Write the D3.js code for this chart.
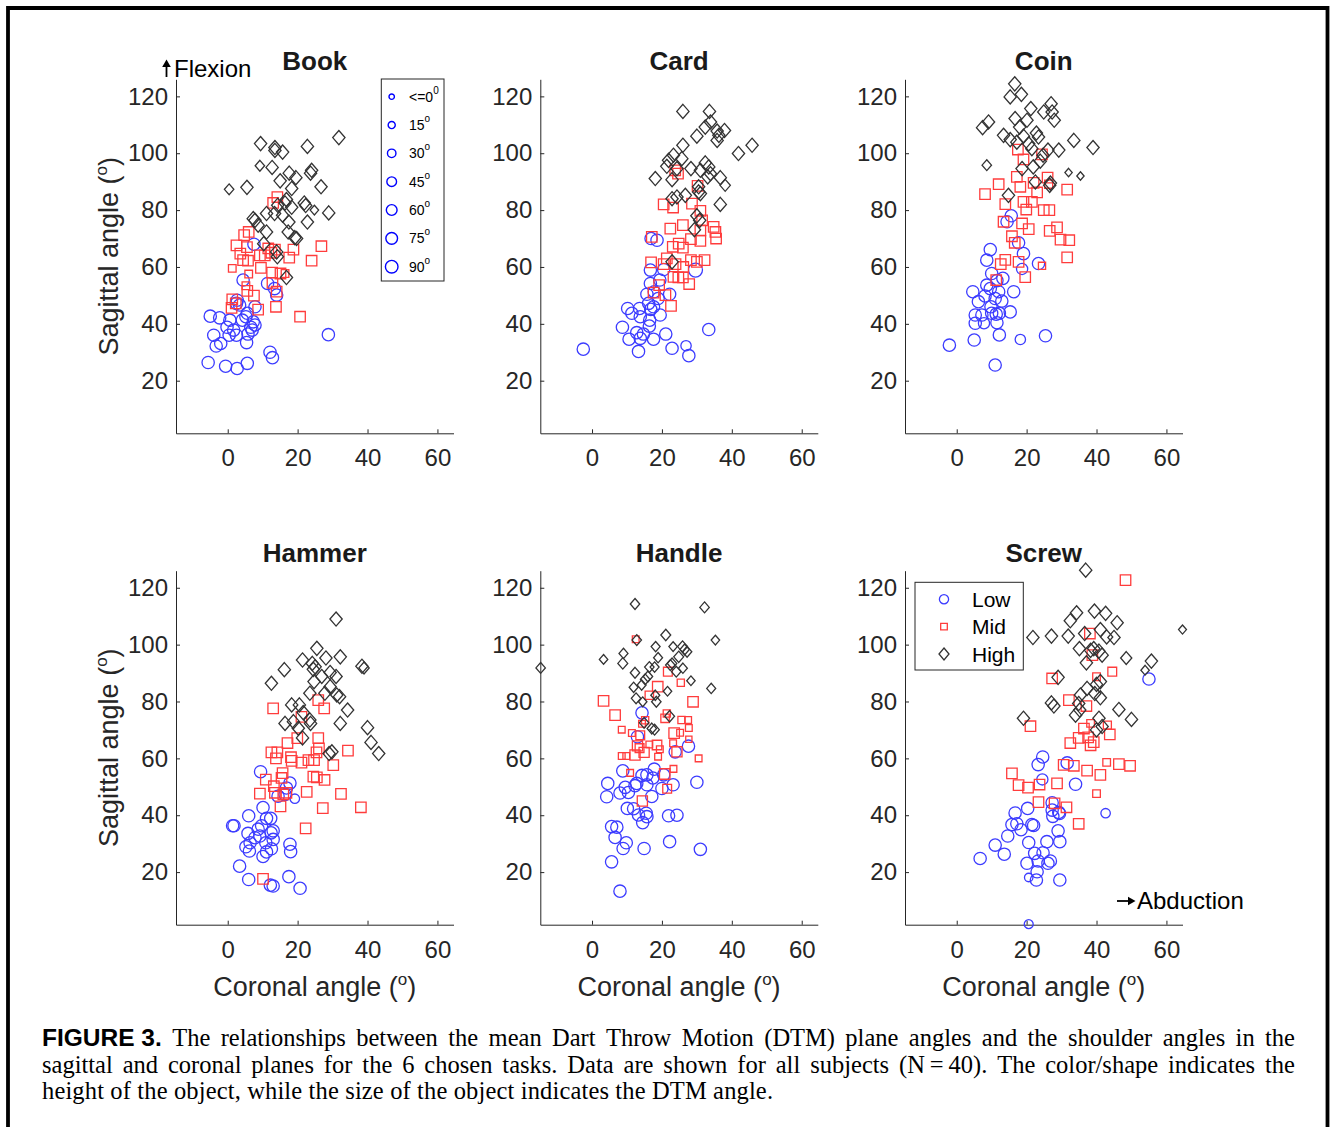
<!DOCTYPE html>
<html>
<head>
<meta charset="utf-8">
<script src="https://cdn.jsdelivr.net/npm/d3@7"></script>
<style>
  body { margin: 0; background: #fff; }
  text { font-family: "Liberation Sans", Arial, Helvetica, sans-serif; }
</style>
</head>
<body>
<svg width="1334" height="1127"></svg>
<script>
// each point: [coronal angle, sagittal angle, DTM angle]
var bookLow = [[7.5,68,65],[4.4,55.4,65],[11.4,54.2,65],[13.4,52.4,65],[14,50.1,65],[2.5,47.2,65],[3.4,46.6,65],[7.8,46,65],
  [5.6,43.7,65],[-5,42.7,65],[-2.3,42.1,65],[0.6,41.3,65],[4.2,41.3,65],[7.3,40.7,65],[7.8,39.6,65],[6.6,38.8,65],
  [-0.2,38.8,65],[1.7,37.8,65],[-4,36,65],[0.4,36,65],[2.5,36,65],[5.8,36.4,65],[5.4,33.4,65],[-2,33.1,65],[-3.3,32.2,65],
  [28.8,36.2,65],[12.1,30,65],[12.8,28.1,65],[-5.6,26.4,65],[-0.6,25.1,65],[2.7,24.3,65],[5.6,26.1,65],[7,37.8,65],
  [5.2,42.5,65],[2.7,48.3,65]];
var bookMid = [[14.2,84.6,65],[13,82.5,65],[6,72.3,65],[4.7,71.2,65],[2.5,67.6,65],[5.5,67,65],[3.6,64.7,65],[4.4,62.4,65],
  [5.8,62.2,65],[1.3,59.5,25],[9.2,64.1,65],[10.6,64.1,65],[11.6,66.5,65],[12.5,65,65],[13.5,66.1,65],[18.8,66.1,65],
  [17.6,63.3,65],[24,62.2,65],[26.8,67.3,65],[9.5,59.7,65],[6,57.5,25],[12.7,58,65],[15.1,57.7,65],[5.2,53.4,25],
  [5.6,51.6,65],[7.5,49.9,65],[12.8,54.4,65],[14,51.3,65],[1.3,48.6,65],[2.3,47.2,65],[1.1,45.6,65],[8.7,45,65],
  [13.8,46,65],[20.7,42.5,65],[16.4,57.7,25]];
var bookHigh = [[9.4,103.4,65],[13.5,102,65],[13.5,101,65],[15.7,100.4,65],[22.8,102.4,65],[31.8,105.5,65],[9.2,95.6,30],
  [12.7,95,65],[17.6,93,65],[19.5,91.4,65],[15,90.3,65],[24,94,65],[23.7,93,65],[26.7,88.2,65],[18.3,87.6,65],[0.4,87.3,30],
  [5.5,88,65],[16.8,83.7,65],[16.4,82.5,65],[21.9,82.5,65],[22.3,81.6,65],[18.3,81,65],[14.3,81.7,65],[11.1,78.8,65],
  [13.4,78.8,65],[24.8,80,20],[28.9,79,65],[15.7,78.2,65],[22.8,75.8,65],[17.5,75.8,65],[7.3,77,65],[7.8,76.4,65],
  [8.7,74.7,65],[11.1,72.3,65],[17.3,72.3,65],[19.2,70.3,65],[19.7,70,65],[10.3,68.2,65],[14.2,63.6,65],[14,65.3,65],
  [16.8,56.3,65]];

var cardLow = [[16.9,70,65],[18.6,69.4,65],[16.7,58.9,65],[19.4,55.4,65],[20.5,59.1,65],[29.6,58.9,90],[16.7,54.2,65],
  [15.7,50.4,65],[17.8,51.3,65],[22.2,50.4,65],[18.9,48.9,65],[16.2,47.2,65],[16.8,45.1,65],[17.6,46,65],[10.2,45.4,65],
  [11.4,43.7,65],[13.6,45.4,65],[13.8,42.5,65],[16.5,41.3,65],[19.5,43.1,65],[16.4,39.2,65],[8.7,38.8,65],[12.8,36.9,65],
  [14.7,36.4,65],[13.8,34.9,65],[10.6,34.6,65],[17.6,34.6,65],[21.1,36.4,65],[33.4,38,65],[-2.5,31.1,65],[13.3,30.3,65],
  [22.9,31.4,65],[26.9,32.3,40],[27.7,28.8,65]];
var cardMid = [[23.8,94,65],[24.6,92.8,65],[30.2,88.5,65],[20.5,82,65],[23.2,80.9,65],[28.6,82.3,65],[31,79.7,65],
  [31.5,76.4,65],[22.4,73.5,65],[26,74.7,65],[31,72.9,65],[34.8,74.1,65],[35.3,72.3,65],[35.5,70,65],[28.3,69.8,65],
  [31,69.2,65],[17.1,70.6,65],[23.1,67.1,65],[24.8,68.2,65],[26,66.8,65],[16.9,61.6,65],[20.5,61,65],[21.4,63,65],
  [23.9,61,65],[26.1,60,65],[28.3,62.4,65],[30,61.8,65],[32.2,62.4,65],[23.3,56.5,65],[24.7,56.3,65],[26,56.3,65],
  [27.8,54,65],[19.2,53.6,65],[17.6,51,65],[21,50.1,65],[22.6,46.3,65]];
var cardHigh = [[26,114.7,65],[33.6,114.7,65],[33.9,111,65],[32.4,109.2,65],[35.8,107.8,65],[37.9,108,65],[36.3,106.3,65],
  [35.8,104.5,65],[30,106,65],[26,102.8,65],[41.9,99.9,65],[45.8,102.8,65],[23.3,99.3,65],[21.9,97.5,65],[25.7,98.1,65],
  [21.4,95.4,65],[24.3,94.6,65],[28.3,94.6,65],[31,94,65],[32.4,96.6,65],[33.4,95.2,65],[33.9,92.8,65],[33.1,91.7,65],
  [18.1,91.1,65],[22.9,90.7,65],[36.7,91.4,65],[38.1,88.7,40],[30.5,88.2,65],[31,85.8,65],[26.7,85.2,65],[22.9,84,65],
  [24.3,84.6,65],[36.7,82,65],[30,78,65],[30.8,76.4,65],[29.3,73.1,65],[22.9,61.8,65],[30.5,86.4,65]];

var coinLow = [[15.6,78,65],[14.4,75.9,65],[17.7,68.5,65],[19.1,64.7,65],[9.6,66.1,65],[8.6,62.4,65],[18.7,59.3,50],
  [23.4,61.2,65],[10,57.7,65],[13.2,56,65],[11.5,55.2,65],[8.6,53.6,65],[9.6,52.4,65],[4.6,51.3,65],[12,51.3,65],
  [16.3,51.3,65],[8.1,49.8,65],[11,48.9,65],[6.2,47.8,65],[12.9,48,65],[9.8,46,65],[15.3,44.2,65],[5.3,43.1,65],
  [7.2,43.1,65],[10,43.7,65],[11.3,43.4,65],[12.2,43.7,65],[5.3,40.2,65],[7.8,40.2,50],[11.5,40.4,65],[12.2,36.1,65],
  [25.4,35.8,65],[-2.1,32.5,65],[5,34.3,65],[18.2,34.5,40],[11,25.5,65]];
var coinMid = [[17.5,101.3,65],[19.1,97.8,65],[24.4,99.6,65],[17.2,91.7,65],[18.2,88.2,65],[12,89.1,65],[8.1,85.6,65],
  [13.9,82.1,65],[19.1,82.9,65],[21.5,82.9,65],[23,86.2,65],[22,89.6,65],[26,91.4,65],[26.3,89.1,30],[31.6,87.2,65],
  [19.9,80.2,65],[24.9,80,65],[26.5,80,65],[13.4,75.9,65],[18.7,75.3,65],[20.6,73.3,65],[26.6,72.7,65],[28.7,73.9,65],
  [15.8,70.8,65],[16.6,68.5,65],[29.7,69.6,65],[32.2,69.4,65],[13.9,62.5,65],[12.6,61,65],[17.7,61.8,65],[24.4,60.4,20],
  [19.6,56.4,65],[11.3,55.4,65],[31.6,63.4,65]];
var coinHigh = [[16.6,124.4,65],[15.3,119.8,65],[18.5,120.7,65],[9.1,111,65],[7.4,109,65],[16.7,112.2,65],[18,109.2,65],
  [20.1,111.6,65],[21.2,115.7,65],[24.9,114.5,65],[27,117.4,65],[27.3,114.5,65],[27.9,111.6,65],[13.4,106.3,65],
  [15.3,104.8,65],[19.1,106,65],[22.8,107.1,65],[23.4,105.7,65],[21.5,101.6,65],[24.7,99.3,65],[26.1,101.1,65],
  [29.2,101.1,65],[33.5,104.5,65],[39,102,65],[8.6,95.8,30],[18.7,94.6,65],[21.9,95.2,65],[32,93.2,10],[35.4,92,10],
  [22.5,89.9,65],[26.6,88.7,65],[14.8,85.2,65],[23.9,97.2,65],[20.6,103.3,65],[17.2,103.9,65],[26.8,89.5,65]];

var hammerLow = [[9.4,55.3,65],[17.8,51.3,65],[16.8,49.6,65],[14.4,46.7,65],[19.2,45.8,30],[16.4,47.3,65],[10.1,42.7,65],
  [6,39.8,65],[11.1,38.9,65],[12.3,38.9,65],[1.8,36.3,65],[1.4,36.3,65],[9.7,36.3,65],[13,34.5,65],[5.8,33.6,65],
  [7.8,32.1,65],[12.4,33.8,65],[13,31.5,65],[9.2,32.7,65],[5.2,28.9,65],[6.4,30.3,65],[6.2,27.4,65],[10.9,30.3,65],
  [12.5,28.2,65],[11.1,27.1,65],[10.1,25.5,65],[17.8,29.8,65],[18,27.2,65],[3.4,22.1,65],[6,17.4,65],[17.5,18.4,65],
  [12.2,15.4,65],[13,15.1,65],[20.7,14.3,65],[8.7,35.1,65]];
var hammerMid = [[13,77.6,65],[25.9,80.5,65],[27.6,77.6,65],[21.1,74.6,65],[19.9,67.1,65],[17.1,65.4,65],[25.9,67.1,65],
  [12.5,62.1,65],[14.2,62.1,65],[13.8,60,65],[18.1,60.4,65],[18.3,59.1,65],[21.1,58.5,65],[23.1,59.4,65],[24.7,59.4,65],
  [25.4,62.1,65],[26.1,63.5,65],[30.2,57.6,65],[34.4,62.7,65],[15.7,54.8,65],[10.9,52.5,65],[15.4,53.1,65],[13.2,50.2,65],
  [24.5,53.6,65],[25.5,53.3,65],[27.7,52.4,65],[9.2,47.6,65],[13.5,47.9,65],[15.9,47.3,65],[16.8,47.9,65],[22.6,48.2,65],
  [32.4,47.5,65],[15.1,43.1,65],[27.2,42.5,65],[38.1,42.8,65],[22.3,35.4,65],[10.1,17.6,65]];
var hammerHigh = [[31,109,65],[25.5,98.7,65],[21.4,94.6,65],[24.2,93.4,65],[25,92.2,65],[24.5,91.3,65],[28.1,95.3,65],
  [32.2,95.7,65],[16.2,91.2,65],[38.4,92.4,65],[39,91.8,40],[29.3,90.2,65],[31,88.8,65],[26.9,88.8,65],[12.5,86.4,65],
  [24.7,87,65],[29.3,85.2,65],[23.5,82.9,65],[27.8,82.9,65],[31.2,82.3,65],[32,81.7,65],[34.3,77,65],[18.3,78.8,65],
  [20.5,78.8,65],[21.6,76.1,65],[23.5,73.5,65],[16.4,72.3,65],[18.8,72.9,65],[20.2,70.6,65],[32.2,72.3,65],[40,70.8,65],
  [41,65.6,65],[43.2,61.7,65],[21.4,67.2,65],[29,61.7,65],[29.8,62.3,65],[23.7,72.3,65]];

var handleLow = [[14.3,76,65],[13,67.6,65],[27.6,64.3,65],[23.8,62.3,65],[8.8,55.6,65],[17.8,56.2,65],[14.3,54,65],
  [15.7,54.2,65],[20.5,54.2,65],[17.4,53.1,65],[4.5,51.2,65],[30,51.6,65],[12.8,51.2,65],[12.3,50.4,65],[15.7,50.7,65],
  [23.2,50.7,65],[9.5,49.8,65],[8,47.8,65],[10.4,48,65],[20,49.4,65],[17.1,46.6,65],[4.2,46.5,65],[10.1,42.4,65],
  [11.9,42.3,65],[13.3,40.1,65],[15.5,40.7,65],[15.7,39.5,65],[21.9,39.8,65],[24.3,40,65],[14.5,37.4,65],[5.6,36,65],
  [7.1,35.8,65],[6.6,32.2,65],[9.8,30.3,65],[8.9,28.3,65],[14.9,28.3,65],[22.2,30.7,65],[31,28,65],[5.6,23.6,65],
  [8,13.3,65]];
var handleMid = [[12.5,101.9,15],[3.3,80.2,65],[6.6,75.2,65],[21.7,90.5,40],[25.4,86.6,20],[18.8,85.2,65],[16.4,82.2,35],
  [28.9,79.9,65],[8.5,70.1,15],[11.4,68.9,15],[13.8,68.1,40],[15.2,73.4,20],[14.3,72.2,15],[20.9,74.1,35],[21.4,75.8,20],
  [25.6,73.5,20],[27.5,73.5,15],[27.7,70.7,15],[23.5,68.9,65],[25.2,69,15],[23.2,65.3,15],[27.7,66.7,10],[16.4,64.9,15],
  [18.6,64.7,50],[19.4,63.2,15],[13,64.4,60],[13.6,63.6,40],[12.3,61.2,60],[14.9,62.1,60],[8.5,60.8,15],[9.8,60.8,15],
  [18.9,60.6,15],[24.3,62.3,60],[30.5,60,15],[10.9,54.9,15],[20.8,54.5,65],[23.3,56.3,15],[21.5,49.3,40],[14.4,45,60]];
var handleHigh = [[12.3,114.3,30],[32.2,113.1,30],[-14.7,91.8,30],[12.8,101.6,30],[35.3,101.6,20],[21.1,103.4,35],
  [3.3,94.8,20],[9,96.9,25],[8.8,93.4,35],[18.2,99.3,25],[23.2,99.3,20],[25.9,99.3,35],[26.5,98.3,30],[27.2,97.5,30],
  [24.8,95.7,35],[18.9,95.4,25],[22.4,92.8,30],[22.9,93.4,30],[24.1,90.5,30],[26,91.7,25],[17.9,92.1,25],[16.4,92.1,30],
  [12.3,90.1,30],[16,88.8,30],[15.2,87.8,30],[14.2,85.8,25],[11.9,85,25],[28.3,87.3,20],[34.1,84.6,25],[21.6,83.6,20],
  [18.1,82.2,25],[18.4,79.9,30],[12.6,81.1,30],[14.5,79.9,20],[22.2,74.8,35],[14.9,72.5,30],[17.1,70.5,30],[17.9,70.1,30]];

var screwLow = [[55,87.9,65],[24.6,60.5,65],[23.3,57.8,65],[31.6,58.4,65],[24.5,52.6,50],[34,50.9,65],[42.6,40.7,30],
  [20.3,42.4,65],[27.3,44.4,65],[27.3,41.8,65],[29.2,41,65],[29.4,40.6,65],[16.7,40.8,65],[15.8,36.7,65],[17.2,37,65],
  [18.4,34.9,65],[21.5,36.7,65],[22,36.4,65],[27.5,39.6,65],[14.6,32.7,65],[20.6,30.4,65],[25.8,30.7,65],[29,34.5,65],
  [29.5,30.7,65],[11,29.5,65],[13.6,26.3,65],[6.7,24.8,65],[22.3,26.6,65],[24.7,26.8,65],[20.1,23.1,65],[23.3,23.9,65],
  [26.8,23.9,65],[26.1,23.1,65],[23,20.1,65],[20.6,18.1,20],[22.8,17.2,65],[29.5,17.2,65],[20.6,1.7,25]];
var screwMid = [[48.3,122.7,65],[38.1,103.9,65],[38.8,96.3,65],[44.5,90.5,40],[40,88.7,25],[27.3,88.1,65],[32.1,80.5,65],
  [37.1,78.4,65],[21.1,71.3,65],[36.4,70.5,65],[38.3,72.3,25],[43.1,71.7,30],[34.9,67.2,65],[37.6,67.4,65],[38.3,64.6,65],
  [32.5,65.4,65],[43.8,68.4,65],[42.9,58.6,25],[46.4,58,65],[49.6,57.4,65],[30.6,57.7,65],[33.5,57.4,65],[37.3,55.7,65],
  [41.1,54.2,65],[15.8,54.7,65],[17.7,50.6,65],[20.4,49.7,65],[23.7,50.8,65],[28.7,51.2,65],[40,47.6,25],[23.4,44.6,65],
  [28,44.2,65],[31.4,42.8,65],[34.9,37,65],[39.2,65.7,65]];
var screwHigh = [[36.9,126.2,65],[34.3,111.2,65],[32.5,108.4,65],[39.4,111.8,65],[42.6,111,65],[45.9,107.7,65],
  [41.1,105.3,65],[36.6,103.9,65],[31.9,103,65],[27.1,103,65],[21.8,102.5,65],[42.9,102.7,65],[45,102.5,65],[64.6,105.3,15],
  [35.1,98.6,65],[38.3,98,65],[39.2,98.6,65],[40.7,97.7,65],[41.6,96.3,65],[37.1,93.6,65],[48.5,95.3,50],[55.7,94.2,65],
  [53.9,91,20],[29,88.5,65],[41.1,87,65],[40,86,65],[37.3,84.6,65],[35.4,82.3,65],[41.1,81.3,65],[39.5,82.8,65],
  [27.1,79.5,65],[27.8,78.4,65],[34.9,79.3,65],[34,75.2,65],[35.2,77,65],[46.4,77.2,65],[50,73.7,65],[19.1,74.1,65],
  [40.7,74.1,65],[41.6,71.2,65],[40,70,65]];

var titles = ["Book", "Card", "Coin", "Hammer", "Handle", "Screw"];
var lowSets = [bookLow, cardLow, coinLow, hammerLow, handleLow, screwLow];
var midSets = [bookMid, cardMid, coinMid, hammerMid, handleMid, screwMid];
var highSets = [bookHigh, cardHigh, coinHigh, hammerHigh, handleHigh, screwHigh];
var xTicks = [0, 20, 40, 60];
var yTicks = [20, 40, 60, 80, 100, 120];
var sizeLegend = ["0", "15", "30", "45", "60", "75", "90"];
var heightNames = ["Low", "Mid", "High"];

var svg = d3.select("svg");
var colX = [176, 540.3, 905], rowY = [79.3, 570.7];
var W = 277.5, H = 354;
var axisColor = "#262626";
var colors = {o: "#3c3cff", s: "#ff3c3c", d: "#333333"};

var x = d3.scaleLinear().domain([-14.8, 64.6]).range([0, W]);
var y = d3.scaleLinear().domain([1.5, 126]).range([H, 0]);
// marker area grows linearly with DTM angle
var rad = function (a) { return Math.sqrt(9 + 0.444 * Math.max(a, 0)); };

function shape(kind, r) {
    if (kind == "o") return "M" + r + ",0A" + r + "," + r + " 0 1 1 " + (-r) + ",0A" + r + "," + r + " 0 1 1 " + r + ",0Z";
    if (kind == "s") {
        var h = 0.85 * r;
        return "M" + (-h) + "," + (-h) + "H" + h + "V" + h + "H" + (-h) + "Z";
    }
    var v = 1.15 * r;
    return "M0," + (-v) + "L" + r + ",0L0," + v + "L" + (-r) + ",0Z";
}

function drawSet(g, pts, kind) {
    g.append("g").selectAll("path")
        .data(pts)
        .enter().append("path")
        .attr("d", function (d) { return shape(kind, rad(d[2])); })
        .attr("transform", function (d) { return "translate(" + x(d[0]) + "," + y(d[1]) + ")"; })
        .attr("fill", "none")
        .attr("stroke", colors[kind])
        .attr("stroke-width", 1.3);
}

titles.forEach(function (name, i) {
    var col = i % 3, row = Math.floor(i / 3);
    var g = svg.append("g").attr("transform", "translate(" + colX[col] + "," + rowY[row] + ")");

    var ya = g.append("g")
        .call(d3.axisLeft(y).tickValues(yTicks).tickSizeInner(-4).tickSizeOuter(0).tickPadding(8));
    var xa = g.append("g").attr("transform", "translate(0," + H + ")")
        .call(d3.axisBottom(x).tickValues(xTicks).tickSizeInner(-4).tickSizeOuter(0).tickPadding(16));
    [ya, xa].forEach(function (a) {
        a.select(".domain").attr("stroke", axisColor);
        a.selectAll(".tick line").attr("stroke", axisColor);
        a.selectAll(".tick text").attr("fill", axisColor)
            .style("font-size", "24px").style("font-family", "Liberation Sans, Arial, sans-serif");
    });

    g.append("text").attr("x", W / 2).attr("y", -9)
        .attr("text-anchor", "middle").attr("font-weight", "bold").attr("font-size", 26)
        .attr("fill", "#1a1a1a").text(name);

    drawSet(g, lowSets[i], "o");
    drawSet(g, midSets[i], "s");
    drawSet(g, highSets[i], "d");

    if (col == 0) {
        var yl = g.append("text").attr("transform", "translate(-58," + (H / 2) + ") rotate(-90)")
            .attr("text-anchor", "middle").attr("font-size", 27).attr("fill", axisColor);
        yl.append("tspan").text("Sagittal angle (");
        yl.append("tspan").attr("font-size", 17).attr("dy", -11).text("o");
        yl.append("tspan").attr("dy", 11).text(")");
    }
    if (row == 1) {
        var xl = g.append("text").attr("x", W / 2).attr("y", H + 71)
            .attr("text-anchor", "middle").attr("font-size", 27).attr("fill", axisColor);
        xl.append("tspan").text("Coronal angle (");
        xl.append("tspan").attr("font-size", 17).attr("dy", -11).text("o");
        xl.append("tspan").attr("dy", 11).text(")");
    }
});

// direction hints: arrow glyphs drawn as small paths, words as text
svg.append("path").attr("d", "M166.5,77V64").attr("stroke", "#000").attr("stroke-width", 1.8);
svg.append("path").attr("d", "M166.5,59.5L170.8,67H162.2Z").attr("fill", "#000");
svg.append("text").attr("x", 174).attr("y", 77).attr("font-size", 24).attr("fill", "#000").text("Flexion");
svg.append("path").attr("d", "M1117,901H1130").attr("stroke", "#000").attr("stroke-width", 1.8);
svg.append("path").attr("d", "M1135.5,901L1128,896.7V905.3Z").attr("fill", "#000");
svg.append("text").attr("x", 1137).attr("y", 909).attr("font-size", 24).attr("fill", "#000").text("Abduction");

// size legend (Book panel)
var sl = svg.append("g");
sl.append("rect").attr("x", 381.3).attr("y", 79).attr("width", 62.7).attr("height", 202)
    .attr("fill", "#fff").attr("stroke", axisColor).attr("stroke-width", 1);
sizeLegend.forEach(function (v, i) {
    var cy = 96.7 + i * 28.33;
    sl.append("path").attr("d", shape("o", rad(+v) * 0.9))
        .attr("transform", "translate(391.7," + cy + ")")
        .attr("fill", "none").attr("stroke", "#0000ff").attr("stroke-width", 1.4);
    var t = sl.append("text").attr("x", 409).attr("y", cy + 5).attr("font-size", 14).attr("fill", "#000");
    t.append("tspan").text(i == 0 ? "<=0" : v);
    t.append("tspan").attr("font-size", 10).attr("dy", -8).text(i == 0 ? "0" : "o");
});

// height legend (Screw panel)
var hl = svg.append("g");
hl.append("rect").attr("x", 915).attr("y", 582.3).attr("width", 108.3).attr("height", 87.7)
    .attr("fill", "#fff").attr("stroke", axisColor).attr("stroke-width", 1);
var legPaths = [shape("o", 4.6), shape("s", 3.9), "M0,-6L5,0L0,6L-5,0Z"];
["o", "s", "d"].forEach(function (k, i) {
    var cy = 599.3 + i * 27.35;
    hl.append("path").attr("d", legPaths[i]).attr("transform", "translate(944," + cy + ")")
        .attr("fill", "none").attr("stroke", colors[k]).attr("stroke-width", 1.3);
    hl.append("text").attr("x", 972).attr("y", cy + 7.5).attr("font-size", 21).attr("fill", "#000")
        .text(heightNames[i]);
});

// frame
svg.append("path").attr("d", "M8,1127V8H1327.5V1127").attr("fill", "none")
    .attr("stroke", "#000").attr("stroke-width", 3.8);

// caption, justified like the journal layout
var capLines = [
    ["FIGURE 3.", "The", "relationships", "between", "the", "mean", "Dart", "Throw", "Motion", "(DTM)", "plane", "angles", "and",
        "the", "shoulder", "angles", "in", "the"],
    ["sagittal", "and", "coronal", "planes", "for", "the", "6", "chosen", "tasks.", "Data", "are", "shown", "for", "all",
        "subjects", "(N\u2009=\u200940).", "The", "color/shape", "indicates", "the"]
];
var capLeft = 42, capRight = 1295, capSize = 24.5;
var serif = "Liberation Serif, Times New Roman, serif";
capLines.forEach(function (words, li) {
    var yy = 1046 + li * 26.5;
    var nodes = words.map(function (w, wi) {
        var bold = (li == 0 && wi == 0);
        return svg.append("text").attr("y", yy).attr("font-size", bold ? 24.5 : capSize)
            .style("font-family", bold ? "Liberation Sans, Arial, sans-serif" : serif)
            .attr("font-weight", bold ? "bold" : "normal").attr("fill", "#000").text(w);
    });
    var widths = nodes.map(function (n) { return n.node().getComputedTextLength(); });
    var gap = (capRight - capLeft - d3.sum(widths)) / (nodes.length - 1);
    var cx = capLeft;
    nodes.forEach(function (n, k) { n.attr("x", cx); cx += widths[k] + gap; });
});
svg.append("text").attr("x", capLeft).attr("y", 1046 + 2 * 26.5).attr("font-size", capSize)
    .style("font-family", serif).attr("fill", "#000")
    .attr("textLength", 731).attr("lengthAdjust", "spacing")
    .text("height of the object, while the size of the object indicates the DTM angle.");
</script>
</body>
</html>
